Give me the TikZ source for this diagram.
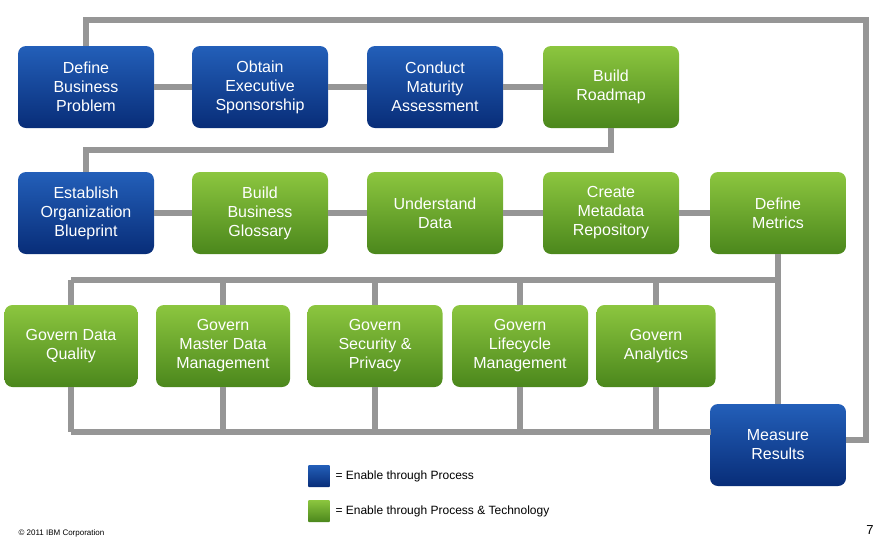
\documentclass[tikz,border=0pt]{standalone}
\usepackage{fontspec}
\setmainfont{Liberation Sans}
\begin{document}
\begin{tikzpicture}[x=1pt,y=-1pt,
 box/.style={rounded corners=8pt,minimum width=136pt,minimum height=82pt,align=center,text=white,font=\fontsize{16}{19}\selectfont,inner sep=2pt},
 blue/.style={box,top color={rgb,255:red,35;green,95;blue,185},bottom color={rgb,255:red,8;green,45;blue,120}},
 green/.style={box,top color={rgb,255:red,140;green,198;blue,63},bottom color={rgb,255:red,75;green,135;blue,28}},
 ln/.style={draw={rgb,255:red,150;green,150;blue,150},line width=5.5pt}]
\useasboundingbox (0,0) rectangle (886,542);
\node[blue] (a1) at (86,87) {Define\\Business\\Problem};
\node[blue] (a2) at (260,87) {Obtain\\Executive\\Sponsorship};
\node[blue] (a3) at (435,87) {Conduct\\Maturity\\Assessment};
\node[green] (a4) at (611,87) {Build\\Roadmap};
\node[blue] (b1) at (86,213) {Establish\\Organization\\Blueprint};
\node[green] (b2) at (260,213) {Build\\Business\\Glossary};
\node[green] (b3) at (435,213) {Understand\\Data};
\node[green] (b4) at (611,213) {Create\\Metadata\\Repository};
\node[green] (b5) at (778,213) {Define\\Metrics};
\node[green,minimum width=133pt] (c1) at (71,346) {Govern Data\\Quality};
\node[green,minimum width=134pt] (c2) at (223,346) {Govern\\Master Data\\Management};
\node[green,minimum width=135pt] (c3) at (375,346) {Govern\\Security \&\\Privacy};
\node[green,minimum width=136pt] (c4) at (520,346) {Govern\\Lifecycle\\Management};
\node[green,minimum width=119pt] (c5) at (656,346) {Govern\\Analytics};
\node[blue] (m) at (778,445) {Measure\\Results};
\coordinate (t1) at (86,20); \coordinate (t2) at (866,20); \coordinate (t3) at (866,440);
\coordinate (r1) at (611,150); \coordinate (r2) at (86,150);
\coordinate (u0) at (71,280); \coordinate (u1) at (778,280);
\coordinate (l0) at (71,432); \coordinate (l1) at (711,432);
\path[ln] (a1) -- (a2) (a2) -- (a3) (a3) -- (a4)
 (b1) -- (b2) (b2) -- (b3) (b3) -- (b4) (b4) -- (b5);
\path[ln] (a4.south) -- (r1) -- (r2) -- (b1.north);
\path[ln] (a1.north) -- (t1) -- (t2) -- (t3) -- (m.east |- t3);
\path[ln] (b5.south) -- (u1) -- (m.north);
\path[ln] (u0) -- (u1);
\foreach \n in {c1,c2,c3,c4,c5}{
 \path[ln] (\n.north) -- (\n.north |- u0);
 \path[ln] (\n.south) -- (\n.south |- l0);
}
\path[ln] (l0) -- (l1);
\node[blue,minimum width=22pt,minimum height=22pt,rounded corners=1pt,inner sep=0pt] (lg1) at (319,476) {};
\node[anchor=west,font=\fontsize{12}{14}\selectfont] (lt1) at (332,476) {= Enable through Process};
\node[green,minimum width=22pt,minimum height=22pt,rounded corners=1pt,inner sep=0pt] (lg2) at (319,511) {};
\node[anchor=west,font=\fontsize{12}{14}\selectfont] (lt2) at (332,511) {= Enable through Process \& Technology};
\node[anchor=west,font=\fontsize{8}{10}\selectfont] (cp) at (15,533) {\textcopyright{} 2011 IBM Corporation};
\node[font=\fontsize{13}{15}\selectfont] (pg) at (870,530) {7};
\end{tikzpicture}
\end{document}
